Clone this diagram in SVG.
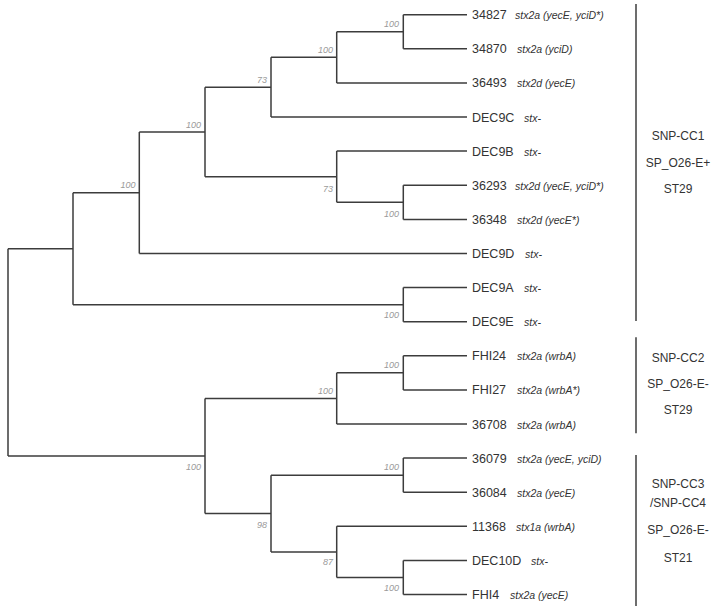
<svg xmlns="http://www.w3.org/2000/svg" width="714" height="612" viewBox="0 0 714 612">
<style>
.br{fill:none;stroke:#3c3c3c;stroke-width:1.5}
.bar{fill:none;stroke:#3c3c3c;stroke-width:1.5}
.nm{font-family:"Liberation Sans",Arial,sans-serif;font-size:12.5px;fill:#333}
.an{font-family:"Liberation Sans",Arial,sans-serif;font-size:10.5px;font-style:italic;fill:#333}
.bs{font-family:"Liberation Sans",Arial,sans-serif;font-size:9px;font-style:italic;fill:#9a9a9a;text-anchor:end}
.gl{font-family:"Liberation Sans",Arial,sans-serif;font-size:12px;fill:#333;text-anchor:middle}
</style>
<rect width="714" height="612" fill="#fff"/>
<g id="connectors">
<path class="br" d="M8 248.7V455.95M8 248.7H73M8 455.95H205"/>
<path class="br" d="M73 192.7V304.65M73 192.7H139.3M73 304.65H403.3"/>
<path class="br" d="M139.3 132V253.5M139.3 132H205M139.3 253.5H467"/>
<path class="br" d="M205 87.2V176.7M205 87.2H271M205 176.7H336.7"/>
<path class="br" d="M271 57.3V117M271 57.3H336.7M271 117H467"/>
<path class="br" d="M336.7 31.75V82.9M336.7 31.75H403.3M336.7 82.9H467"/>
<path class="br" d="M403.3 14.7V48.8M403.3 14.7H467M403.3 48.8H467"/>
<path class="br" d="M336.7 151.1V202.35M336.7 151.1H467M336.7 202.35H403.3"/>
<path class="br" d="M403.3 185.3V219.4M403.3 185.3H467M403.3 219.4H467"/>
<path class="br" d="M403.3 287.6V321.7M403.3 287.6H467M403.3 321.7H467"/>
<path class="br" d="M205 398.4V513.5M205 398.4H336.7M205 513.5H271"/>
<path class="br" d="M336.7 372.85V424M336.7 372.85H403.3M336.7 424H467"/>
<path class="br" d="M403.3 355.8V389.9M403.3 355.8H467M403.3 389.9H467"/>
<path class="br" d="M271 475.15V551.9M271 475.15H403.3M271 551.9H336.7"/>
<path class="br" d="M403.3 458.1V492.2M403.3 458.1H467M403.3 492.2H467"/>
<path class="br" d="M336.7 526.3V577.55M336.7 526.3H467M336.7 577.55H403.3"/>
<path class="br" d="M403.3 560.5V594.6M403.3 560.5H467M403.3 594.6H467"/>
</g>
<g id="support">
<text class="bs" x="399" y="27">100</text>
<text class="bs" x="333" y="53">100</text>
<text class="bs" x="267" y="83">73</text>
<text class="bs" x="201" y="128">100</text>
<text class="bs" x="135.5" y="187.5">100</text>
<text class="bs" x="333" y="192">73</text>
<text class="bs" x="399" y="217">100</text>
<text class="bs" x="399" y="318">100</text>
<text class="bs" x="399" y="368">100</text>
<text class="bs" x="333" y="394">100</text>
<text class="bs" x="201" y="470">100</text>
<text class="bs" x="399" y="470">100</text>
<text class="bs" x="267" y="528">98</text>
<text class="bs" x="333" y="565">87</text>
<text class="bs" x="399" y="591">100</text>
</g>
<g id="leaf-34827"><text class="nm" x="472" y="19.2">34827</text><text class="an" x="515" y="19.2">stx2a (yecE, yciD*)</text></g>
<g id="leaf-34870"><text class="nm" x="472" y="53.3">34870</text><text class="an" x="517" y="53.3">stx2a (yciD)</text></g>
<g id="leaf-36493"><text class="nm" x="472" y="87.4">36493</text><text class="an" x="517" y="87.4">stx2d (yecE)</text></g>
<g id="leaf-DEC9C"><text class="nm" x="472" y="121.5">DEC9C</text><text class="an" x="524" y="121.5">stx-</text></g>
<g id="leaf-DEC9B"><text class="nm" x="472" y="155.6">DEC9B</text><text class="an" x="524" y="155.6">stx-</text></g>
<g id="leaf-36293"><text class="nm" x="472" y="189.8">36293</text><text class="an" x="515" y="189.8">stx2d (yecE, yciD*)</text></g>
<g id="leaf-36348"><text class="nm" x="472" y="223.9">36348</text><text class="an" x="517" y="223.9">stx2d (yecE*)</text></g>
<g id="leaf-DEC9D"><text class="nm" x="472" y="258">DEC9D</text><text class="an" x="525" y="258">stx-</text></g>
<g id="leaf-DEC9A"><text class="nm" x="472" y="292.1">DEC9A</text><text class="an" x="524" y="292.1">stx-</text></g>
<g id="leaf-DEC9E"><text class="nm" x="472" y="326.2">DEC9E</text><text class="an" x="524" y="326.2">stx-</text></g>
<g id="leaf-FHI24"><text class="nm" x="472" y="360.3">FHI24</text><text class="an" x="517" y="360.3">stx2a (wrbA)</text></g>
<g id="leaf-FHI27"><text class="nm" x="472" y="394.4">FHI27</text><text class="an" x="517" y="394.4">stx2a (wrbA*)</text></g>
<g id="leaf-36708"><text class="nm" x="472" y="428.5">36708</text><text class="an" x="517" y="428.5">stx2a (wrbA)</text></g>
<g id="leaf-36079"><text class="nm" x="472" y="462.6">36079</text><text class="an" x="517" y="462.6">stx2a (yecE, yciD)</text></g>
<g id="leaf-36084"><text class="nm" x="472" y="496.7">36084</text><text class="an" x="517" y="496.7">stx2a (yecE)</text></g>
<g id="leaf-11368"><text class="nm" x="472" y="530.8">11368</text><text class="an" x="516" y="530.8">stx1a (wrbA)</text></g>
<g id="leaf-DEC10D"><text class="nm" x="472" y="565">DEC10D</text><text class="an" x="531" y="565">stx-</text></g>
<g id="leaf-FHI4"><text class="nm" x="472" y="599.1">FHI4</text><text class="an" x="510" y="599.1">stx2a (yecE)</text></g>
<g id="group-1">
<path class="bar" d="M636 4V321"/>
<text class="gl" x="678" y="140.3">SNP-CC1</text>
<text class="gl" x="678" y="167">SP_O26-E+</text>
<text class="gl" x="678" y="193.3">ST29</text>
</g>
<g id="group-2">
<path class="bar" d="M636 337.3V433.3"/>
<text class="gl" x="678" y="361.6">SNP-CC2</text>
<text class="gl" x="678" y="387.6">SP_O26-E-</text>
<text class="gl" x="678" y="414.3">ST29</text>
</g>
<g id="group-3">
<path class="bar" d="M636 455V606"/>
<text class="gl" x="678" y="488.3">SNP-CC3</text>
<text class="gl" x="678" y="507">/SNP-CC4</text>
<text class="gl" x="678" y="533.6">SP_O26-E-</text>
<text class="gl" x="678" y="562">ST21</text>
</g>
</svg>
